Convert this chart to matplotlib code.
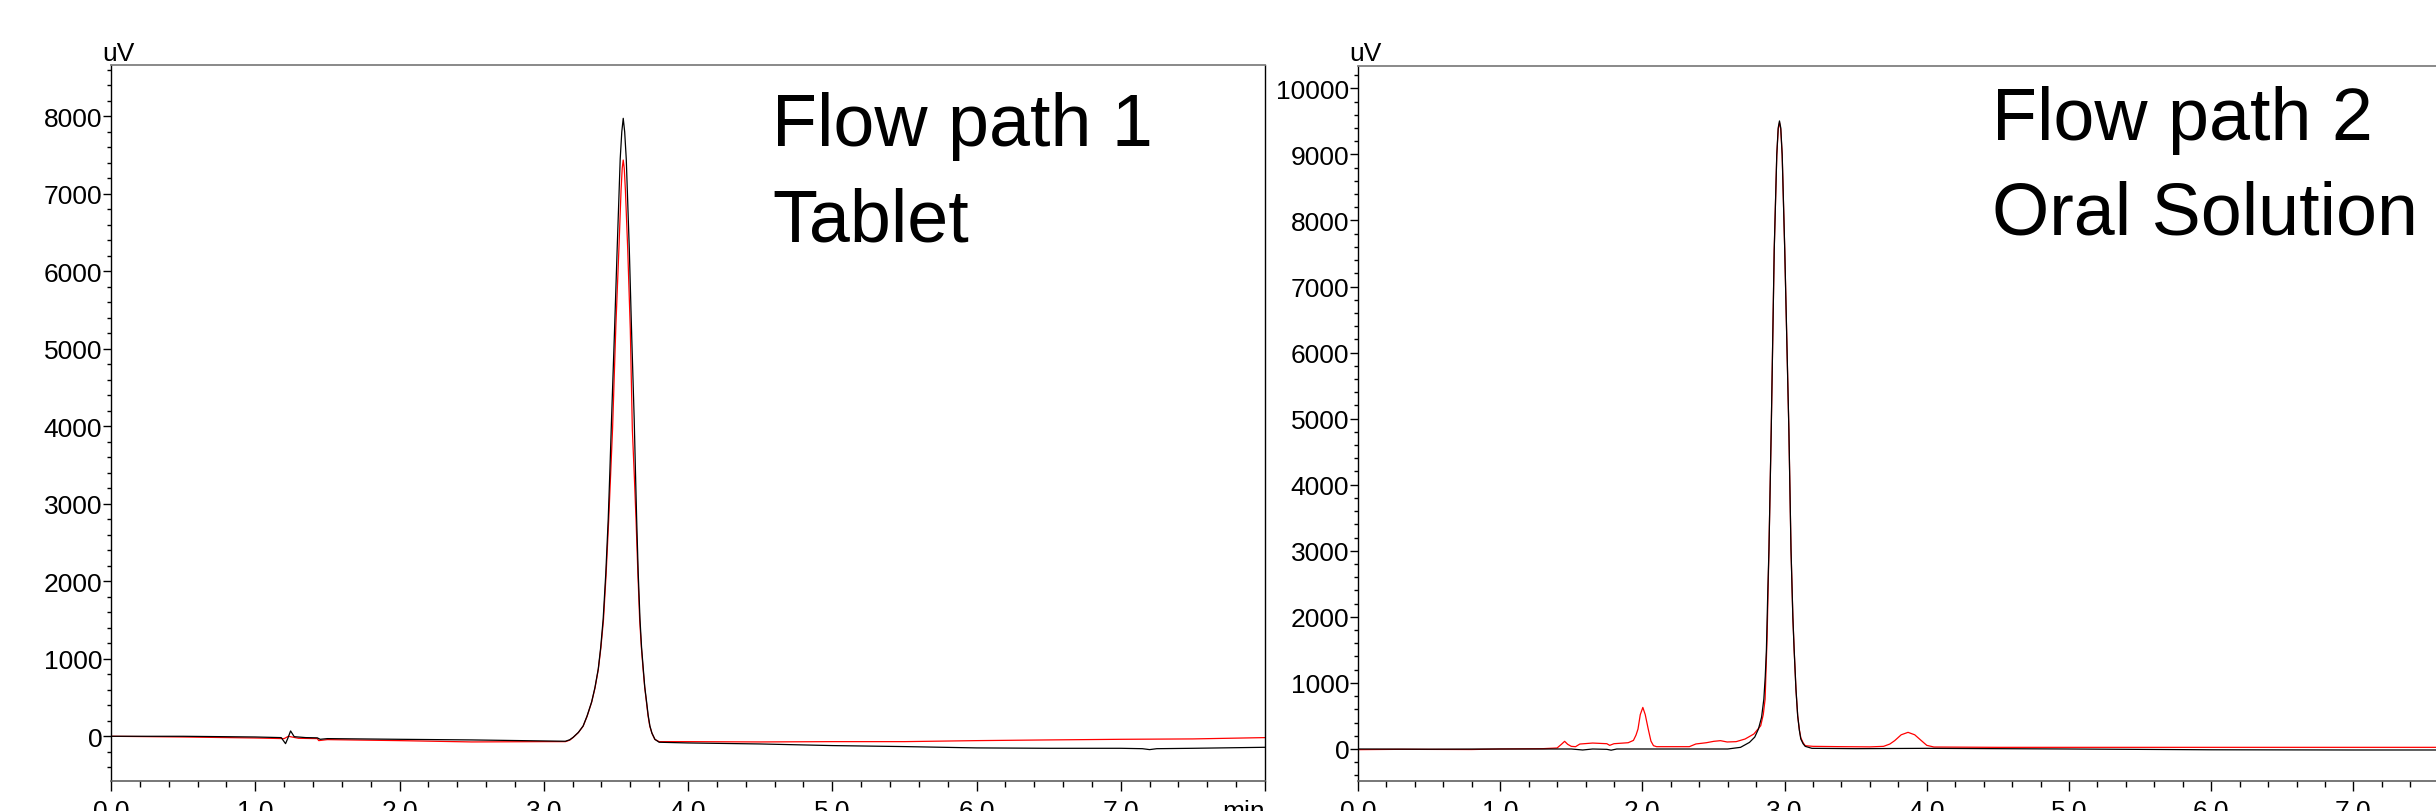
import matplotlib.pyplot as plt
from matplotlib.ticker import MultipleLocator, FixedLocator

plt.rcParams['font.family'] = ['Liberation Sans', 'DejaVu Sans']

# ---- Flow path 1 (Tablet), times in min, signal in uV ----
t1_black = [0.0, 0.5, 1.0, 1.18, 1.21, 1.225, 1.245, 1.27, 1.35, 1.43, 1.45, 1.5, 2.0, 2.5, 3.0, 3.15,
            3.18, 3.204, 3.24, 3.273, 3.30, 3.332, 3.355, 3.378, 3.395, 3.412, 3.43, 3.447, 3.458,
            3.470, 3.49, 3.509, 3.53, 3.541, 3.551, 3.561, 3.572, 3.593,
            3.61, 3.627, 3.636, 3.644, 3.655, 3.667, 3.678, 3.690, 3.70, 3.713, 3.724, 3.736,
            3.75, 3.771, 3.80,
            4.0, 4.5, 5.0, 5.5, 6.0, 6.5, 7.0, 7.15, 7.2, 7.25, 7.5, 8.0]
y1_black = [0, 0, -9, -17, -95, -30, 69, -5, -17, -20, -39, -30, -39, -47, -60, -64,
            -45, -13, 50, 133, 260, 443, 630, 870, 1150, 1516, 2100, 2806, 3400,
            4094, 5200, 6290, 7450, 7800, 7974, 7800, 7450, 6290,
            5150, 4094, 3400, 2806, 2100, 1516, 1150, 870, 640, 443, 270, 133,
            40, -40, -77,
            -86, -99, -120, -133, -150, -155, -155, -160, -172, -160, -155, -142]

t1_red = [0.0, 0.5, 1.0, 1.2, 1.23, 1.3, 1.43, 1.44, 1.5, 2.0, 2.5, 3.0, 3.15,
          3.18, 3.204, 3.24, 3.273, 3.30, 3.332, 3.355, 3.378, 3.396, 3.414, 3.432, 3.45, 3.463,
          3.477, 3.50, 3.521, 3.536, 3.544, 3.551, 3.558, 3.566, 3.582,
          3.60, 3.614, 3.628, 3.64, 3.653, 3.665, 3.677, 3.689, 3.70, 3.712, 3.723, 3.735,
          3.75, 3.77, 3.80,
          4.0, 4.5, 5.0, 5.5, 6.0, 6.5, 7.0, 7.5, 8.0]
y1_red = [0, -9, -22, -30, 0, -26, -30, -56, -43, -56, -73, -69, -69,
          -50, -15, 48, 130, 255, 440, 620, 860, 1140, 1500, 2080, 2780, 3350,
          3965, 5300, 6290, 7050, 7330, 7436, 7330, 7050, 6290,
          5250, 3965, 3350, 2780, 2080, 1500, 1140, 860, 630, 440, 265, 130,
          40, -40, -69,
          -69, -73, -69, -69, -56, -47, -39, -34, -17]

# ---- Flow path 2 (Oral Solution) ----
t2_black = [0.0, 0.5, 1.0, 1.5, 1.58, 1.65, 1.75, 1.78, 1.82, 2.0, 2.5, 2.60, 2.69, 2.753, 2.79,
            2.816, 2.838, 2.854, 2.864, 2.872, 2.882, 2.89, 2.906, 2.927, 2.945, 2.955, 2.964,
            2.973, 2.983, 3.001, 3.030, 3.045, 3.058, 3.067, 3.08, 3.092, 3.104, 3.114, 3.13,
            3.145, 3.192, 3.5, 4.0, 5.0, 6.0, 7.0, 8.0]
y2_black = [0, -3, 0, 0, -15, 0, -5, -18, 0, 0, 0, 0, 25, 100, 180,
            302, 480, 755, 1100, 1500, 2400, 3021, 4834, 7553, 9000, 9400, 9506,
            9400, 9000, 7553, 4834, 3021, 2000, 1510, 900, 503, 280, 151, 80,
            40, 10, 5, 10, 0, -12, -15, -15]

t2_red = [0.0, 0.3, 0.8, 1.0, 1.3, 1.40, 1.43, 1.453, 1.475, 1.50, 1.53, 1.56, 1.65, 1.75, 1.77,
          1.80, 1.90, 1.937, 1.955, 1.969, 1.985, 2.003, 2.02, 2.041, 2.06, 2.078, 2.10, 2.33,
          2.376, 2.45, 2.502, 2.549, 2.596, 2.659, 2.722, 2.784, 2.832, 2.85, 2.863, 2.877, 2.89,
          2.906, 2.927, 2.945, 2.955, 2.964, 2.973, 2.983, 3.001, 3.030, 3.045, 3.058, 3.067,
          3.08, 3.092, 3.104, 3.114, 3.13, 3.145, 3.20, 3.4, 3.6,
          3.696, 3.74, 3.774, 3.82, 3.868, 3.915, 3.962, 4.00, 4.05, 4.5, 5.0, 6.0, 7.0, 8.0]
y2_red = [-10, -5, -8, 0, 5, 15, 70, 116, 70, 40, 35, 75, 90, 80, 55,
          80, 95, 130, 210, 302, 520, 629, 520, 302, 120, 50, 35, 35,
          76, 95, 116, 126, 106, 111, 151, 227, 352, 520, 755, 1700, 3021,
          4834, 7553, 8980, 9380, 9480, 9380, 8980, 7553, 4834, 3021, 2000, 1510,
          900, 503, 290, 170, 95, 50, 40, 35, 32,
          40, 75, 126, 215, 252, 215, 126, 55, 30, 25, 25, 25, 25, 25]

W, H = 2436, 812
fig = plt.figure(figsize=(W / 100, H / 100), dpi=100)


def px(x0, y_top, x1, y_bot):
    return [x0 / W, 1 - y_bot / H, (x1 - x0) / W, (y_bot - y_top) / H]


def style_axes(ax, ymax_major):
    ax.set_xlim(0, 8)
    ax.xaxis.set_major_locator(MultipleLocator(1.0))
    ax.xaxis.set_minor_locator(MultipleLocator(0.2))
    ax.yaxis.set_major_locator(FixedLocator(list(range(0, ymax_major + 1, 1000))))
    ax.yaxis.set_minor_locator(MultipleLocator(200))
    ax.tick_params(axis='x', which='major', direction='out', length=7.2, width=1.0, pad=5.5, labelsize=19)
    ax.tick_params(axis='x', which='minor', direction='out', length=4.3, width=1.0)
    ax.tick_params(axis='y', which='major', direction='out', length=5.8, width=1.0, pad=0.5, labelsize=19)
    ax.tick_params(axis='y', which='minor', direction='out', length=2.9, width=1.0)
    ax.spines['top'].set_color('#808080')
    ax.spines['top'].set_linewidth(1.3)
    ax.spines['bottom'].set_color('#606060')
    ax.spines['bottom'].set_linewidth(1.2)
    ax.spines['left'].set_color('black')
    ax.spines['left'].set_linewidth(1.0)
    ax.spines['right'].set_color('black')
    ax.spines['right'].set_linewidth(1.0)
    labels = ['%.1f' % v for v in range(8)] + ['min']
    ax.set_xticks(range(9))
    ax.set_xticklabels(labels)
    ax.get_xticklabels()[-1].set_horizontalalignment('right')


ax1 = fig.add_axes(px(111, 66, 1265, 782))
ax1.plot(t1_red, y1_red, color='#ff0000', lw=0.9)
ax1.plot(t1_black, y1_black, color='black', lw=0.9)
style_axes(ax1, 8000)
ax1.set_ylim(-577, 8662)

ax2 = fig.add_axes(px(1358, 66.7, 1358 + 8 * 142.2, 782.3))
ax2.plot(t2_red, y2_red, color='#ff0000', lw=0.9)
ax2.plot(t2_black, y2_black, color='black', lw=0.9)
style_axes(ax2, 10000)
ax2.set_ylim(-489, 10342)

# unit labels above the y axes
fig.text(102 / W, 1 - 61 / H, 'uV', fontsize=19, ha='left', va='baseline')
fig.text(1349 / W, 1 - 61 / H, 'uV', fontsize=19, ha='left', va='baseline')

# panel annotations
fig.text(772 / W, 1 - 146 / H, 'Flow path 1', fontsize=53, ha='left', va='baseline')
fig.text(772 / W, 1 - 241 / H, 'Tablet', fontsize=53, ha='left', va='baseline')
fig.text(1992 / W, 1 - 140 / H, 'Flow path 2', fontsize=53, ha='left', va='baseline')
fig.text(1992 / W, 1 - 235 / H, 'Oral Solution', fontsize=53, ha='left', va='baseline')

fig.savefig('out.png', dpi=100)
